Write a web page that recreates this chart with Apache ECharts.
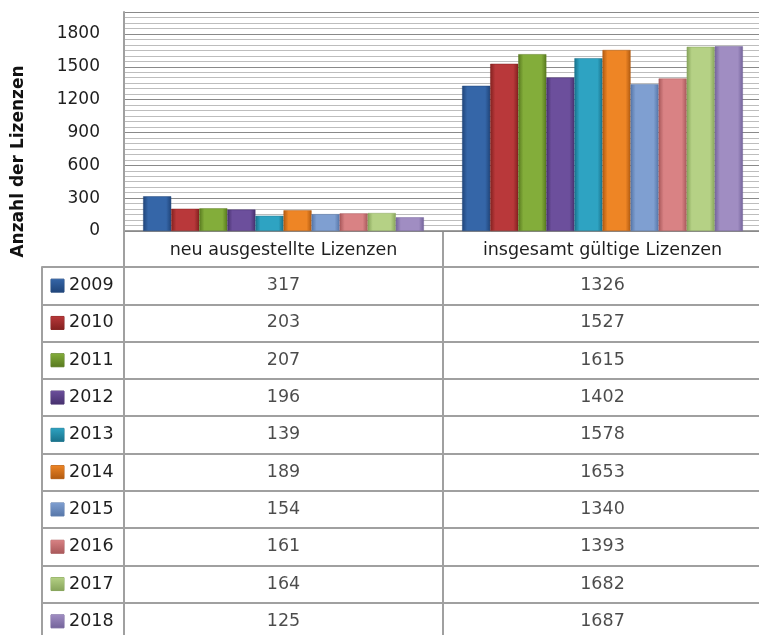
<!DOCTYPE html>
<html><head><meta charset="utf-8">
<script src="https://cdn.jsdelivr.net/npm/echarts@6/dist/echarts.min.js"></script>
<style>html,body{margin:0;padding:0;background:#fff}#c{width:759px;height:635px}</style>
</head><body><div id="c"></div>
<script>
const categories = ['neu ausgestellte Lizenzen', 'insgesamt gültige Lizenzen'];
const years = ['2009','2010','2011','2012','2013','2014','2015','2016','2017','2018'];
const newLicences = [317, 203, 207, 196, 139, 189, 154, 161, 164, 125];
const totalLicences = [1326, 1527, 1615, 1402, 1578, 1653, 1340, 1393, 1682, 1687];
const colors = ['#3566a8','#b9383a','#83ad3a','#6c4f9c','#2ea3c2','#ee8525','#7f9fd1','#d98284','#b5d185','#a08dc2'];
const darkColors = ['#1f4479','#82211f','#58791f','#47316e','#19718a','#b15a10','#5676a8','#a8585a','#86a35a','#73639a'];
const yTitle = 'Anzahl der Lizenzen';

const FONT = 'DejaVu Sans';
const GRID = '#a0a0a0';
const TXT = '#1e1e1e';

const chart = echarts.init(document.getElementById('c'), null, {renderer: 'canvas'});

const rich = {y: {fontFamily: FONT, fontSize: 17.5, color: TXT, padding: [0,0,0,5]}};
colors.forEach((c, i) => {
  rich['i' + i] = {width: 13, height: 13, backgroundColor: {
    type: 'linear', x: 0, y: 0, x2: 0, y2: 1,
    colorStops: [{offset: 0, color: c}, {offset: 1, color: darkColors[i]}]}, borderColor: darkColors[i], borderWidth: 0.5};
});

const barSeries = years.map((y, i) => ({
  name: y, type: 'bar', xAxisIndex: 0, yAxisIndex: 0,
  barGap: '0%', barCategoryGap: '12%',
  data: [newLicences[i], totalLicences[i]],
  itemStyle: {
    color: {type: 'linear', x: 0, y: 0, x2: 1, y2: 0, colorStops: [
      {offset: 0, color: darkColors[i]}, {offset: 0.18, color: colors[i]},
      {offset: 0.82, color: colors[i]}, {offset: 1, color: darkColors[i]}]},
    borderColor: darkColors[i], borderWidth: 0.5
  },
  z: 3
}));

const tableData = [];
years.forEach((y, i) => {
  tableData.push([categories[0], y, newLicences[i]]);
  tableData.push([categories[1], y, totalLicences[i]]);
});

chart.setOption({
  animation: false,
  backgroundColor: '#fff',
  grid: [
    {left: 124, width: 638, top: 12, height: 219, outerBoundsMode: 'none', containLabel: false},
    {left: 124, width: 638, top: 267, height: 373, outerBoundsMode: 'none', containLabel: false}
  ],
  xAxis: [
    {type: 'category', gridIndex: 0, data: categories,
     axisLine: {lineStyle: {color: '#808080', width: 1.5}},
     axisTick: {show: true, length: 36, lineStyle: {color: GRID, width: 2}},
     axisLabel: {fontFamily: FONT, fontSize: 17.5, color: TXT, margin: 10}},
    {type: 'category', gridIndex: 1, data: categories,
     axisLine: {show: false}, axisTick: {show: false}, axisLabel: {show: false},
     splitLine: {show: true, lineStyle: {color: GRID, width: 2}}}
  ],
  yAxis: [
    {type: 'value', gridIndex: 0, min: 0, max: 2000, interval: 300, z: 2,
     name: yTitle, nameLocation: 'middle', nameGap: 97,
     nameTextStyle: {fontFamily: 'DejaVu Sans', fontWeight: 'bold', fontSize: 17, color: '#111', padding: [0, 80, 0, 0]},
     axisLine: {show: true, lineStyle: {color: GRID, width: 2}},
     axisTick: {show: false},
     axisLabel: {fontFamily: FONT, fontSize: 17, color: TXT, margin: 24, showMaxLabel: false,
       formatter: v => (v % 300 === 0 ? String(v) : '')},
     splitLine: {show: true, lineStyle: {color: '#8a8a8a', width: 1.2}}},
    {type: 'value', gridIndex: 0, min: 0, max: 2000, interval: 50, z: 1,
     axisLine: {show: false}, axisTick: {show: false}, axisLabel: {show: false},
     splitLine: {show: true, lineStyle: {color: '#bdbdbd', width: 1}}},
    {type: 'category', gridIndex: 1, data: years, inverse: true,
     axisLine: {show: true, lineStyle: {color: GRID, width: 2}},
     axisTick: {show: true, length: 82, lineStyle: {color: GRID, width: 2}},
     axisLabel: {align: 'left', margin: 73, rich: rich,
       formatter: (v, idx) => '{i' + idx + '|}{y|' + v + '}'},
     splitLine: {show: true, lineStyle: {color: GRID, width: 2}}},
    {type: 'category', gridIndex: 1, data: years, inverse: true, position: 'left', offset: 82,
     axisLine: {show: true, lineStyle: {color: GRID, width: 2}},
     axisTick: {show: false}, axisLabel: {show: false}}
  ],
  series: barSeries.concat([{
    type: 'scatter', xAxisIndex: 1, yAxisIndex: 2, data: tableData,
    symbolSize: 1, itemStyle: {color: 'rgba(0,0,0,0)'}, silent: true,
    label: {show: true, position: 'inside', fontFamily: FONT, fontSize: 17.5, color: TXT,
      formatter: p => String(p.value[2])}
  }])
});
</script></body></html>
